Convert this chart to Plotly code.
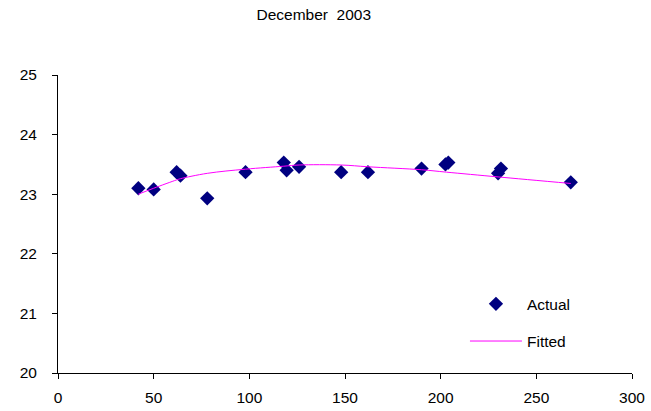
import plotly.graph_objects as go

# Actual observations
actual_x = [42, 50, 62, 64, 78, 98, 118, 119.5, 126, 148, 162, 190, 202.5, 204, 230, 231.5, 268]
actual_y = [23.10, 23.08, 23.37, 23.31, 22.93, 23.37, 23.53, 23.40, 23.46, 23.37, 23.37, 23.43, 23.50, 23.53, 23.35, 23.43, 23.20]

# Fitted curve
fitted_x = [42, 50, 62, 64, 78, 98, 118, 126, 148, 162, 190, 203, 230, 268]
fitted_y = [23.00, 23.10, 23.24, 23.26, 23.35, 23.42, 23.47, 23.49, 23.49, 23.46, 23.41, 23.37, 23.29, 23.18]

title_text = "December\u00a0\u00a02003"
x_ticks = [0, 50, 100, 150, 200, 250, 300]
y_ticks = [20, 21, 22, 23, 24, 25]

FAM = "Liberation Sans, Arial, sans-serif"
font = dict(family=FAM, size=15.5, color="#000000")

fig = go.Figure()
fig.add_trace(go.Scatter(
    x=actual_x, y=actual_y, mode="markers", name="Actual",
    marker=dict(symbol="diamond", size=11, color="#000080", line=dict(width=0)),
    legendgroup="a",
))
fig.add_trace(go.Scatter(
    x=fitted_x, y=fitted_y, mode="lines", name="Fitted",
    line=dict(color="#FF00FF", width=1, shape="spline"),
    legendgroup="b",
))

fig.update_layout(
    width=651, height=411,
    margin=dict(l=58, r=19, t=75, b=38, autoexpand=False),
    paper_bgcolor="white", plot_bgcolor="white",
    font=font,
    title=dict(text=title_text, x=0.482, xanchor="center", y=0.965, yanchor="middle",
               font=font),
    showlegend=True,
    legend=dict(x=0.709, y=0.2876, xanchor="left", yanchor="top", bgcolor="rgba(0,0,0,0)",
                itemwidth=52, tracegroupgap=14, traceorder="grouped", font=font),
)
fig.update_xaxes(range=[0, 300], tickvals=x_ticks, showgrid=False, zeroline=False,
                 showline=True, linecolor="#000000", linewidth=1,
                 ticks="outside", ticklen=5, tickcolor="#000000", tickfont=font,
                 ticklabelstandoff=5, automargin=False)
fig.update_yaxes(range=[20, 25], tickvals=y_ticks, showgrid=False, zeroline=False,
                 showline=True, linecolor="#000000", linewidth=1,
                 ticks="outside", ticklen=5, tickcolor="#000000", tickfont=font,
                 ticklabelstandoff=12, automargin=False)

fig.write_html("out.html")
